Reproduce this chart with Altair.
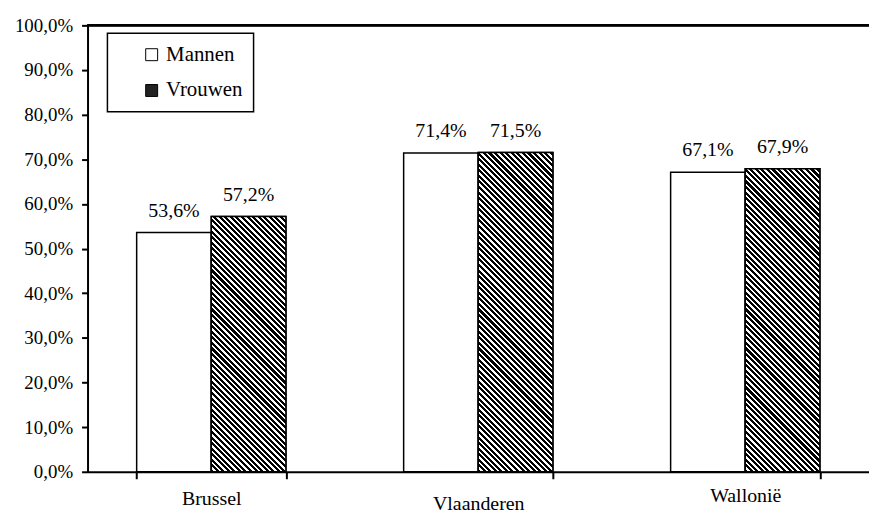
import altair as alt
import pandas as pd

# ---------------- data ----------------
regios = ["Brussel", "Vlaanderen", "Wallonië"]
geslachten = ["Mannen", "Vrouwen"]
mannen = [53.6, 71.4, 67.1]
vrouwen = [57.2, 71.5, 67.9]
y_ticks = [0, 10, 20, 30, 40, 50, 60, 70, 80, 90, 100]

rows = []
for r, m, v in zip(regios, mannen, vrouwen):
    rows.append({"Regio": r, "Geslacht": "Mannen", "Waarde": m})
    rows.append({"Regio": r, "Geslacht": "Vrouwen", "Waarde": v})
df = pd.DataFrame(rows)

# ---------------- layout / style ----------------
PLOT_W, PLOT_H = 786, 449
PAD_IN, PAD_OUT = 0.441, 0.184
FONT = "Liberation Serif"
BAR_W = PLOT_W / (3 - PAD_IN + 2 * PAD_OUT) * (1 - PAD_IN) / 2


def hatch(h, w=BAR_W, period=5.6, frac=0.55):
    """Diagonal (\\\\) hatch as a hard-stop linear gradient in bbox units."""
    r = h / w
    k = (1 + r) / (1 + r * r)
    n = (w + h) / period
    stops = []
    j = 0
    while j < n:
        a = j / n
        b = min((j + frac) / n, 1.0)
        c = min((j + 1) / n, 1.0)
        stops += [
            {"offset": round(a, 5), "color": "black"},
            {"offset": round(b, 5), "color": "black"},
            {"offset": round(b, 5), "color": "white"},
            {"offset": round(c, 5), "color": "white"},
        ]
        j += 1
    return {
        "gradient": "linear",
        "x1": 0, "y1": 1,
        "x2": round(k, 6), "y2": round(1 - k * r, 6),
        "stops": stops,
    }


x_scale = alt.Scale(domain=regios, paddingInner=PAD_IN, paddingOuter=PAD_OUT)
xo_scale = alt.Scale(domain=geslachten)
y_scale = alt.Scale(domain=[0, 100], nice=False)

x_axis = alt.Axis(
    title=None,
    tickBand="extent",
    tickSize=7,
    tickWidth=2,
    tickColor="black",
    domainColor="black",
    domainWidth=2,
    labelFont=FONT,
    labelFontSize=20,
    labelColor="black",
    labelAngle=0,
    labelPadding={
        "condition": [
            {"test": "datum.value === 'Vlaanderen'", "value": 15},
            {"test": "datum.value === 'Wallonië'", "value": 7},
        ],
        "value": 10,
    },
)
y_axis = alt.Axis(
    title=None,
    values=y_ticks,
    ticks=True,
    tickSize=6,
    tickWidth=2,
    tickColor="black",
    grid=False,
    domainColor="black",
    domainWidth=2,
    labelFont=FONT,
    labelFontSize=19,
    labelColor="black",
    labelPadding=9,
    labelExpr="replace(format(datum.value, '.1f'), '.', ',') + '%'",
)

x_enc = alt.X("Regio:N", scale=x_scale, sort=regios, axis=x_axis)
xo_enc = alt.XOffset("Geslacht:N", scale=xo_scale, sort=geslachten)
y_enc = alt.Y("Waarde:Q", scale=y_scale, axis=y_axis)

nbsp = "\u00a0" * 5
base = alt.Chart(df).mark_bar(stroke="black", strokeWidth=1.5).encode(
    x=x_enc,
    xOffset=xo_enc,
    y=y_enc,
    fill=alt.Fill(
        "Geslacht:N",
        scale=alt.Scale(domain=geslachten, range=["white", "#222222"]),
        legend=alt.Legend(
            title=None,
            orient="none",
            legendX=20,
            legendY=8,
            padding=11,
            strokeColor="black",
            fillColor="white",
            symbolType="square",
            symbolSize=144,
            symbolStrokeColor="black",
            symbolStrokeWidth=1,
            symbolOffset=23,
            labelOffset=4,
            rowPadding=14,
            labelFont=FONT,
            labelFontSize=21,
            labelColor="black",
            labelExpr="datum.label + '" + nbsp + "'",
        ),
    ),
)

layers = [base]
for r, v in zip(regios, vrouwen):
    h = v / 100 * PLOT_H
    layers.append(
        alt.Chart(df)
        .transform_filter(
            f"datum.Geslacht === 'Vrouwen' && datum.Regio === '{r}'"
        )
        .mark_bar(fill=hatch(h), stroke="black", strokeWidth=1.5)
        .encode(x=x_enc, xOffset=xo_enc, y=y_enc)
    )

labels = (
    alt.Chart(df)
    .transform_calculate(
        label="replace(format(datum.Waarde, '.1f'), '.', ',') + '%'"
    )
    .mark_text(baseline="bottom", dy=-12, font=FONT, fontSize=20, color="black")
    .encode(x=x_enc, xOffset=xo_enc, y=y_enc, text="label:N")
)

top_line = alt.Chart(df).mark_rule(color="black", strokeWidth=2).encode(
    y=alt.datum(100)
)

chart = (
    alt.layer(*layers, labels, top_line)
    .properties(
        width=PLOT_W,
        height=PLOT_H,
        autosize=alt.AutoSizeParams(type="none"),
        padding={"left": 80, "top": 16, "right": 0, "bottom": 40},
        background="white",
    )
    .configure_view(stroke=None)
    .configure_legend(strokeWidth=1.5)
)

chart.save("out.html", embed_options={"renderer": "svg", "actions": False})
